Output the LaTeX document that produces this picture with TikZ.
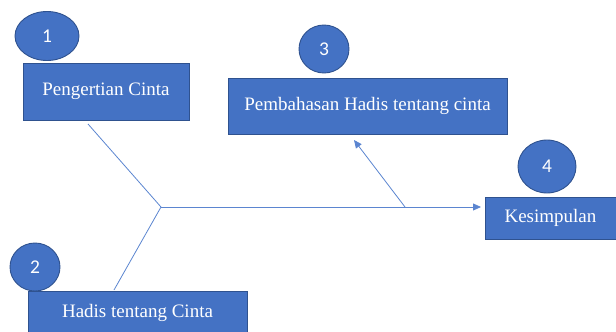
\documentclass[tikz,border=0pt]{standalone}
\usepackage{fontspec}
\setmainfont{Liberation Serif}
\newfontfamily\numfont{Carlito}
\usetikzlibrary{arrows.meta,shapes.geometric}
\definecolor{officeblue}{HTML}{4472C4}
\definecolor{officeedge}{HTML}{2F528F}
\definecolor{linkblue}{HTML}{5B85D0}
\tikzset{
  topicbox/.style={draw=officeedge,fill=officeblue,line width=0.9pt,text=white,inner sep=0pt,font=\fontsize{19}{21}\selectfont},
  numdot/.style={ellipse,draw=officeedge,fill=officeblue,line width=0.9pt,text=white,inner sep=0pt,font=\numfont\fontsize{19.5}{21}\selectfont},
  bone/.style={draw=linkblue,line width=0.8pt},
  tip/.style={-{Triangle[length=8pt,width=7pt]}}
}
\begin{document}
\begin{tikzpicture}[x=1pt,y=-1pt]
    \useasboundingbox (0,0) rectangle (616,332);
    % boxes
    \node[topicbox,minimum width=166pt,minimum height=57pt] (pengertian) at (106,91.5) {Pengertian Cinta};
    \node[topicbox,minimum width=279pt,minimum height=56pt] (pembahasan) at (367.5,106) {Pembahasan Hadis tentang cinta};
    \node[topicbox,minimum width=131pt,minimum height=42pt] (kesimpulan) at (550.5,218) {Kesimpulan};
    \node[topicbox,minimum width=219pt,minimum height=44pt] (hadis) at (137.5,313) {Hadis tentang Cinta};
    % numbers
    \node[numdot,minimum width=64pt,minimum height=49pt] (n1) at (47,36) {1};
    \node[numdot,minimum width=50pt,minimum height=48pt] (n2) at (35,267) {2};
    \node[numdot,minimum width=50pt,minimum height=48pt] (n3) at (324,49) {3};
    \node[numdot,minimum width=58pt,minimum height=53pt] (n4) at (547,166.5) {4};
    % bones
    \coordinate (tail1) at (88,124);
    \coordinate (spine) at (161,207);
    \coordinate (foot2) at (114,290);
    \coordinate (fork3) at (405,207);
    \coordinate (head3) at (354,140);
    \coordinate (head4) at (481,207);
    \draw[bone] (tail1) -- (spine) -- (foot2);
    \draw[bone,tip] (spine) -- (head4);
    \draw[bone,tip] (fork3) -- (head3);
\end{tikzpicture}
\end{document}
